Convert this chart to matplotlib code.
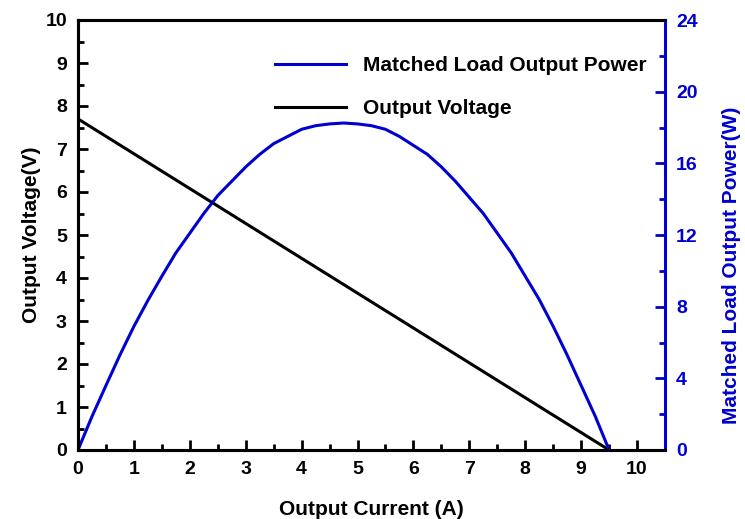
import matplotlib
matplotlib.use("Agg")
import matplotlib.pyplot as plt
from matplotlib.ticker import MultipleLocator

plt.rcParams['font.family'] = ['Liberation Sans', 'DejaVu Sans']
plt.rcParams['font.weight'] = 'bold'

# data
voltage_current = [0.0, 9.5]
voltage = [7.7, 0.0]

power_current = [0.0, 0.25, 0.5, 0.75, 1.0, 1.25, 1.5, 1.75, 2.0, 2.25,
                 2.5, 2.75, 3.0, 3.25, 3.5, 3.75, 4.0, 4.25, 4.5, 4.75,
                 5.0, 5.25, 5.5, 5.75, 6.0, 6.25, 6.5, 6.75, 7.0, 7.25,
                 7.5, 7.75, 8.0, 8.25, 8.5, 8.75, 9.0, 9.25, 9.5]
power = [0.0, 1.87, 3.6, 5.3, 6.9, 8.35, 9.7, 11.0, 12.1, 13.2,
         14.2, 15.0, 15.8, 16.5, 17.1, 17.5, 17.9, 18.1, 18.2, 18.25,
         18.2, 18.1, 17.9, 17.5, 17.0, 16.5, 15.8, 15.0, 14.1, 13.2,
         12.1, 11.0, 9.7, 8.4, 6.9, 5.3, 3.6, 1.9, 0.0]

BLUE = '#0000d0'

fig = plt.figure(figsize=(7.45, 5.19), dpi=100)
ax = fig.add_axes([78 / 745, 69 / 519, 587 / 745, 430 / 519])
ax2 = ax.twinx()

l2, = ax.plot(voltage_current, voltage, color='black', lw=2.2)
l1, = ax2.plot(power_current, power, color=BLUE, lw=2.2)

ax.set_xlim(0, 10.5)
ax.set_ylim(0, 10)
ax2.set_ylim(0, 24)

ax.xaxis.set_major_locator(MultipleLocator(1))
ax.xaxis.set_minor_locator(MultipleLocator(0.5))
ax.yaxis.set_major_locator(MultipleLocator(1))
ax.yaxis.set_minor_locator(MultipleLocator(0.5))
ax2.yaxis.set_major_locator(MultipleLocator(4))
ax2.yaxis.set_minor_locator(MultipleLocator(2))

for a in (ax, ax2):
    for s in a.spines.values():
        s.set_linewidth(2.2)
ax2.spines['right'].set_color(BLUE)
ax.spines['right'].set_visible(False)

ax.tick_params(which='major', direction='in', length=7, width=2, labelsize=14, top=False, pad=8)
ax.tick_params(which='minor', direction='in', length=4, width=2, top=False)
ax2.tick_params(which='major', direction='in', length=7, width=2, labelsize=14,
                colors=BLUE, pad=8)
ax2.tick_params(which='minor', direction='in', length=4, width=2, colors=BLUE)

ax.set_xlabel('Output Current (A)', fontsize=15, fontweight='bold', labelpad=16)
ax.set_ylabel('Output Voltage(V)', fontsize=15, fontweight='bold', labelpad=3)
ax2.set_ylabel('Matched Load Output Power(W)', fontsize=15, fontweight='bold',
               color=BLUE)
ax2.yaxis.set_label_coords(1.097, 0.43)

ax.legend([l1, l2], ['Matched Load Output Power', 'Output Voltage'],
          loc='upper left', bbox_to_anchor=(0.336, 0.916), frameon=False,
          handlelength=3.4, handletextpad=0.8, labelspacing=1.15,
          borderpad=0, borderaxespad=0,
          prop={'weight': 'bold', 'size': 15})

fig.savefig('out.png', dpi=100)
